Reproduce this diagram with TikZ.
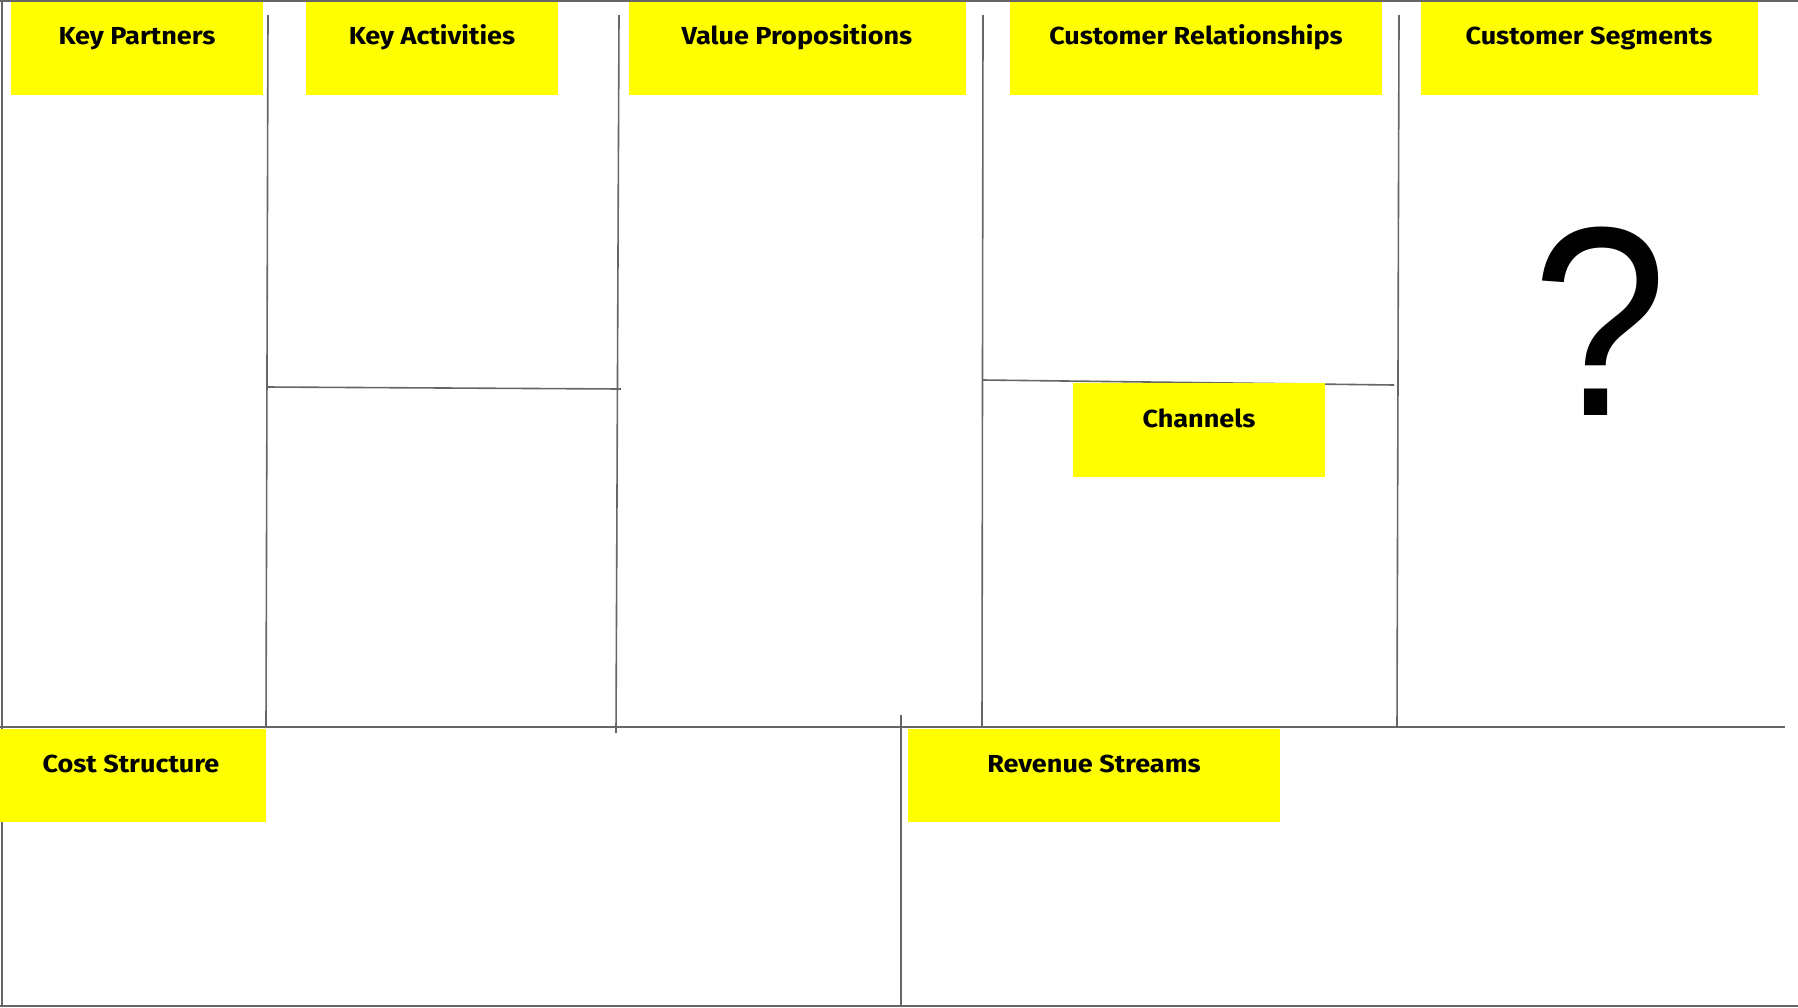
\documentclass[tikz,border=0pt]{standalone}
\usepackage{fontspec}
\setmainfont{Fira Sans}
\newfontfamily\notefont[FakeStretch=1.1]{Fira Sans}
\newfontfamily\qfont[FakeStretch=0.9]{Liberation Sans}
\usetikzlibrary{positioning}
\definecolor{stickyyellow}{HTML}{FFFF00}
\definecolor{gridgray}{HTML}{666666}
\tikzset{
  gridline/.style={draw=gridgray, line width=0.8pt},
  sticky/.style={fill=stickyyellow},
  title/.style={anchor=base, inner sep=0pt, font=\notefont\bfseries\fontsize{12.3}{14}\selectfont}
}

\begin{document}
\begin{tikzpicture}[x=0.5pt, y=-0.5pt]
\useasboundingbox (0,0) rectangle (1798,1007);
\fill[white] (0,0) rectangle (1798,1007);
\coordinate (tl) at (0,1);
\coordinate (tr) at (1798,1);
\coordinate (lt) at (2,0);
\coordinate (lb) at (2,1007);
\coordinate (bl) at (0,1006);
\coordinate (br) at (1798,1006);
\coordinate (ml) at (0,727);
\coordinate (mr) at (1785,727);
\coordinate (v1t) at (268,15);
\coordinate (v1b) at (266,727);
\coordinate (v2t) at (619,15);
\coordinate (v2b) at (616,733);
\coordinate (v3t) at (983,15);
\coordinate (v3b) at (982,727);
\coordinate (v4t) at (1399,15);
\coordinate (v4b) at (1397,727);
\coordinate (v5t) at (901,715);
\coordinate (v5b) at (901,1007);
\coordinate (kal) at (267,387);
\coordinate (kar) at (621,389);
\coordinate (crl) at (983,380);
\coordinate (crr) at (1394,385);
\draw[gridline] (tl)--(tr);
\draw[gridline] (lt)--(lb);
\draw[gridline] (bl)--(br);
\draw[gridline] (ml)--(mr);
\draw[gridline] (v1t)--(v1b);
\draw[gridline] (v2t)--(v2b);
\draw[gridline] (v3t)--(v3b);
\draw[gridline] (v4t)--(v4b);
\draw[gridline] (v5t)--(v5b);
\draw[gridline] (kal)--(kar);
\draw[gridline] (crl)--(crr);
\fill[sticky] (11,1.5) rectangle (263,95);
\fill[sticky] (306,1.5) rectangle (558,95);
\fill[sticky] (629,1.5) rectangle (966,95);
\fill[sticky] (1010,1.5) rectangle (1382,95);
\fill[sticky] (1421,1.5) rectangle (1758,95);
\fill[sticky] (1073,383) rectangle (1325,477);
\fill[sticky] (0,728.5) rectangle (266,822);
\fill[sticky] (908,728.5) rectangle (1280,822);
\node[title] (kp) at (137,44) {Key Partners};
\node[title] (ka) at (432,44) {Key Activities};
\node[title] (vp) at (797,44) {Value Propositions};
\node[title] (cr) at (1196,44) {Customer Relationships};
\node[title] (cs) at (1589,44) {Customer Segments};
\node[title] (ch) at (1199,427) {Channels};
\node[title] (cost) at (131,772) {Cost Structure};
\node[title] (rs) at (1094,772) {Revenue Streams};
\node[anchor=base, inner sep=0pt, font=\qfont\fontsize{135}{138}\selectfont] (qm) at (1600,415) {?};
\end{tikzpicture}
\end{document}
